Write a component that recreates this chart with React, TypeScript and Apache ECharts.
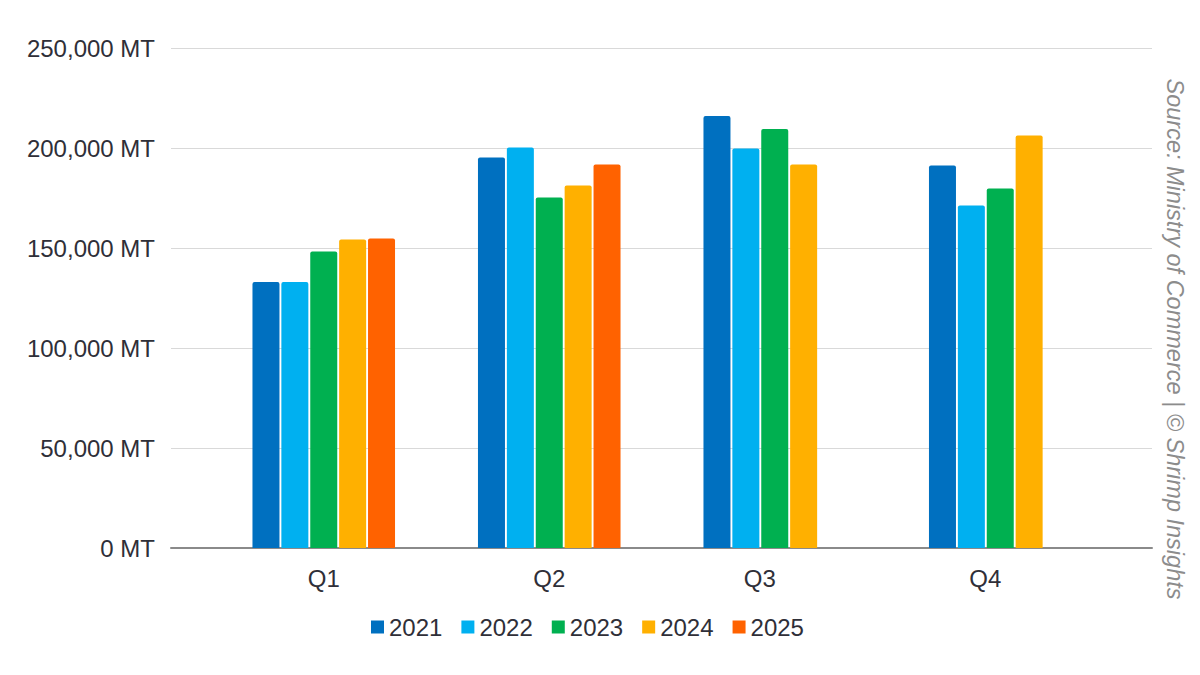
import React, { useEffect, useRef } from "react";
import * as echarts from "echarts";

const quarters = ["Q1", "Q2", "Q3", "Q4"];
const years = ["2021", "2022", "2023", "2024", "2025"];
const v2021 = [133000, 195200, 216000, 191300];
const v2022 = [133000, 200200, 199700, 171300];
const v2023 = [148300, 175300, 209500, 179800];
const v2024 = [154300, 181200, 191700, 206300];
const v2025: (number | null)[] = [154800, 191800, null, null];
const yTicks = [0, 50000, 100000, 150000, 200000, 250000];
const colors = ["#0070C0", "#00B0F0", "#00B050", "#FFB000", "#FF6200"];
const sourceText = "Source: Ministry of Commerce | © Shrimp Insights";

const seriesValues = [v2021, v2022, v2023, v2024, v2025];

export default function App() {
  const ref = useRef<HTMLDivElement>(null);
  useEffect(() => {
    if (!ref.current) return;
    const chart = echarts.init(ref.current, null, { renderer: "svg" });
    const font = "'Liberation Sans', Arial, sans-serif";
    const txt = "#2f2f38";
    chart.setOption({
      animation: false,
      backgroundColor: "#ffffff",
      textStyle: { fontFamily: font },
      grid: [
        { left: 171, right: 48, top: 48, bottom: 127 },
        { left: 211, right: 87, top: 48, bottom: 127 },
      ],
      legend: {
        data: years,
        left: 366,
        top: 610,
        icon: "rect",
        itemWidth: 13,
        itemHeight: 13,
        itemGap: 19,
        textStyle: { fontSize: 24, color: txt, fontFamily: font },
      },
      xAxis: [
        {
          gridIndex: 0,
          type: "category",
          data: [""],
          axisLine: { show: true, lineStyle: { color: "#8a8a8a", width: 2 } },
          axisTick: { show: false },
          axisLabel: { show: false },
        },
        {
          gridIndex: 1,
          type: "category",
          data: quarters,
          axisLine: { show: false },
          axisTick: { show: false },
          axisLabel: {
            margin: 18,
            fontSize: 24,
            color: txt,
            formatter: (v: string, i: number) => (i >= 2 ? `{s|${v}}` : `{n|${v}}`),
            rich: {
              n: { fontSize: 24, color: txt, fontFamily: font },
              s: { fontSize: 24, color: txt, fontFamily: font, padding: [0, 30, 0, 0] },
            },
          },
        },
      ],
      yAxis: [
        {
          gridIndex: 0,
          type: "value",
          min: yTicks[0],
          max: yTicks[yTicks.length - 1],
          interval: 50000,
          axisLine: { show: false },
          axisTick: { show: false },
          splitLine: { lineStyle: { color: "#d9d9d9", width: 1 } },
          axisLabel: {
            margin: 16,
            fontSize: 24,
            color: txt,
            formatter: (v: number) => `${v.toLocaleString("en-US")} MT`,
          },
        },
        {
          gridIndex: 1,
          type: "value",
          min: yTicks[0],
          max: yTicks[yTicks.length - 1],
          interval: 50000,
          show: false,
          splitLine: { show: false },
        },
      ],
      series: years.map((y, i) => ({
        name: y,
        type: "bar",
        xAxisIndex: 1,
        yAxisIndex: 1,
        data: seriesValues[i],
        barWidth: 27,
        barGap: "7%",
        itemStyle: { color: colors[i], borderRadius: [2, 2, 0, 0] },
      })),
      graphic: [
        {
          type: "text",
          x: 1175,
          y: 339,
          rotation: -Math.PI / 2,
          style: {
            text: sourceText,
            fontSize: 23.5,
            fontStyle: "italic",
            fontFamily: font,
            fill: "#8c8c8c",
            align: "center",
            verticalAlign: "middle",
          },
        },
      ],
    });
    return () => chart.dispose();
  }, []);
  return <div ref={ref} style={{ width: 1200, height: 675, position: "fixed", left: 0, top: 0 }} />;
}
